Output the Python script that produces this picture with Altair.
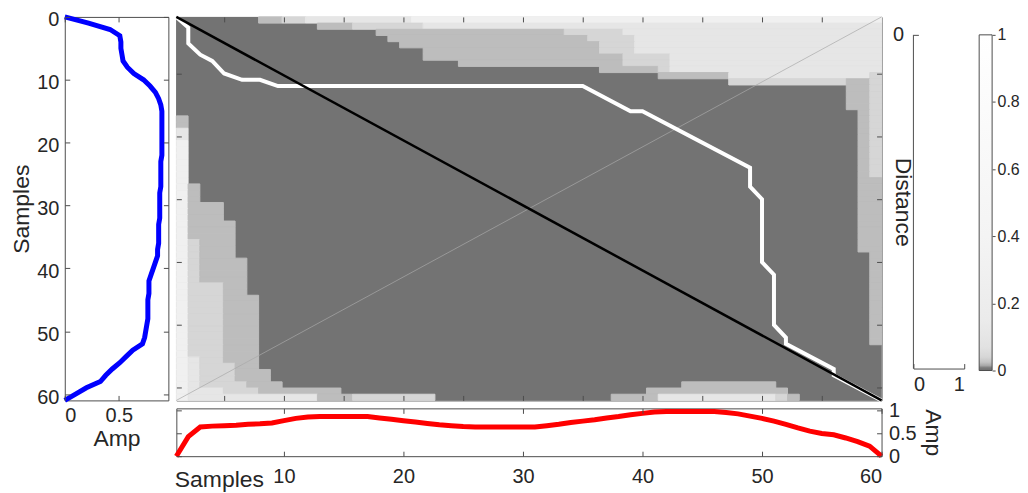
import altair as alt
import pandas as pd

FONT = "Liberation Sans"
TEXT = "#262626"
LINE = "#4d4d4d"

# ---------------- data ----------------
blue_sample = list(range(62))
blue_amp = [0.00, 0.22, 0.42, 0.51, 0.52, 0.52, 0.53, 0.54, 0.58, 0.64,
            0.73, 0.79, 0.84, 0.87, 0.89, 0.90, 0.90, 0.90, 0.90, 0.90,
            0.90, 0.90, 0.90, 0.89, 0.89, 0.89, 0.89, 0.89, 0.88, 0.88,
            0.88, 0.88, 0.88, 0.87, 0.87, 0.87, 0.87, 0.86, 0.86, 0.84,
            0.82, 0.80, 0.78, 0.78, 0.78, 0.77, 0.77, 0.77, 0.77, 0.76,
            0.75, 0.74, 0.72, 0.63, 0.57, 0.51, 0.44, 0.38, 0.33, 0.20,
            0.10, 0.00]

red_sample = list(range(1, 61))
red_amp = [0.00, 0.43, 0.64, 0.66, 0.67, 0.68, 0.70, 0.71, 0.73, 0.78,
           0.83, 0.86, 0.87, 0.87, 0.87, 0.87, 0.87, 0.84, 0.81, 0.78,
           0.75, 0.72, 0.69, 0.67, 0.65, 0.64, 0.64, 0.64, 0.64, 0.64,
           0.64, 0.67, 0.70, 0.74, 0.77, 0.80, 0.84, 0.87, 0.91, 0.94,
           0.97, 0.98, 0.98, 0.98, 0.98, 0.98, 0.96, 0.93, 0.88, 0.83,
           0.77, 0.70, 0.62, 0.55, 0.50, 0.47, 0.40, 0.32, 0.22, 0.00]

# distance-matrix bands: depth (in rows) from the top per column, level >= k
top_lvl1 = [0, 0, 0, 0, 0, 0, 0, 1, 1, 1, 1, 1, 2, 2, 2, 2, 2, 3, 4, 5,
            5, 7, 7, 7, 8, 8, 8, 8, 8, 8, 8, 8, 8, 8, 8, 8, 9, 9, 9, 9,
            9, 10, 10, 10, 10, 10, 10, 11, 11, 11, 11, 11, 11, 11, 11, 11, 11, 15, 38, 53]
top_lvl2 = [0, 0, 0, 0, 0, 0, 0, 0, 0, 1, 1, 1, 1, 1, 1, 2, 2, 2, 2, 2,
            2, 2, 2, 2, 2, 2, 2, 2, 2, 2, 2, 2, 2, 3, 3, 4, 6, 6, 8, 8,
            8, 9, 9, 9, 9, 9, 9, 11, 11, 11, 11, 11, 11, 11, 11, 11, 11, 10, 10, 26]
top_lvl3 = [0, 0, 0, 0, 0, 0, 0, 0, 0, 0, 0, 1, 1, 1, 1, 1, 1, 1, 1, 1,
            1, 2, 2, 2, 2, 2, 2, 2, 2, 2, 2, 2, 2, 2, 2, 2, 2, 2, 3, 6,
            6, 6, 9, 9, 9, 9, 9, 10, 10, 10, 10, 10, 10, 10, 10, 10, 10, 10, 10, 9]
top_lvl4 = [0, 0, 0, 0, 0, 0, 0, 0, 0, 0, 0, 0, 0, 0, 0, 0, 0, 0, 0, 0,
            1, 1, 1, 1, 1, 1, 1, 1, 1, 1, 1, 1, 1, 1, 1, 1, 1, 1, 1, 1,
            1, 1, 1, 1, 1, 1, 1, 1, 1, 1, 1, 1, 1, 1, 1, 1, 1, 1, 1, 1]

# width (in columns) from the left per row, level >= k
left_lvl1 = [0, 0, 0, 0, 0, 0, 0, 0, 0, 0, 0, 0, 0, 0, 0, 0, 1, 1, 1, 1,
             1, 1, 1, 1, 1, 1, 1, 2, 2, 2, 4, 4, 4, 5, 5, 5, 5, 5, 5, 6,
             6, 6, 6, 6, 6, 7, 7, 7, 7, 7, 7, 7, 7, 7, 7, 7, 7, 8, 8, 9,
             10, 12]
left_lvl2 = [0, 0, 0, 0, 0, 0, 0, 0, 0, 0, 0, 0, 0, 0, 0, 0, 0, 0, 1, 1,
             1, 1, 1, 1, 1, 1, 1, 1, 1, 1, 1, 1, 1, 1, 1, 1, 2, 2, 2, 2,
             2, 2, 2, 4, 4, 4, 4, 4, 4, 4, 4, 4, 4, 4, 4, 4, 5, 5, 5, 6,
             7, 12]
left_lvl3 = [0, 0, 0, 0, 0, 0, 0, 0, 0, 0, 0, 0, 0, 0, 0, 0, 0, 0, 1, 1,
             1, 1, 1, 1, 1, 1, 1, 1, 1, 1, 1, 1, 1, 1, 1, 1, 1, 1, 1, 1,
             1, 1, 1, 1, 1, 1, 1, 1, 1, 1, 1, 1, 1, 1, 1, 2, 2, 2, 2, 2,
             4, 12]
left_lvl4 = [0, 0, 0, 0, 0, 0, 0, 0, 0, 0, 0, 0, 0, 0, 0, 0, 0, 0, 0, 0,
             1, 1, 1, 1, 1, 1, 1, 1, 1, 1, 1, 1, 1, 1, 1, 1, 1, 1, 1, 1,
             1, 1, 1, 1, 1, 1, 1, 1, 1, 1, 1, 1, 1, 1, 1, 1, 1, 1, 1, 1,
             1, 1]

# depth (in rows) from the bottom per column, level >= k
bot_lvl1 = [0, 0, 0, 0, 0, 0, 0, 0, 0, 0, 2, 2, 2, 2, 1, 1, 1, 1, 1, 1,
            1, 1, 0, 0, 0, 0, 0, 0, 0, 0, 0, 0, 0, 0, 0, 0, 0, 1, 1, 1,
            2, 2, 2, 3, 3, 3, 3, 3, 3, 3, 3, 2, 1, 0, 0, 0, 0, 0, 0, 0]
bot_lvl2 = [0, 0, 0, 0, 0, 0, 0, 0, 0, 0, 1, 1, 0, 0, 0, 1, 1, 1, 1, 1,
            1, 1, 0, 0, 0, 0, 0, 0, 0, 0, 0, 0, 0, 0, 0, 0, 0, 0, 0, 0,
            0, 1, 1, 1, 1, 1, 1, 1, 1, 1, 1, 1, 0, 0, 0, 0, 0, 0, 0, 0]
bot_lvl3 = [0, 0, 0, 0, 0, 0, 0, 0, 0, 0, 0, 0, 0, 0, 0, 0, 0, 0, 0, 0,
            0, 0, 0, 0, 0, 0, 0, 0, 0, 0, 0, 0, 0, 0, 0, 0, 0, 0, 0, 0,
            0, 1, 1, 1, 1, 1, 1, 1, 1, 1, 1, 0, 0, 0, 0, 0, 0, 0, 0, 0]
bot_lvl4 = [0] * 60

level_colors = ["#737373", "#bdbdbd", "#d6d6d6", "#e6e6e6", "#f0f0f0"]

# warping path and reference diagonals (axis units)
path_x = [1, 2, 2, 3, 4, 5, 6.5, 8, 9.5, 35, 39, 40, 49, 49, 50, 50, 51, 51, 52, 52, 56, 56, 60]
path_y = [1, 2.7, 5.2, 7, 8, 10, 11, 11, 12, 12, 16, 16, 25, 28, 30, 40, 42, 50, 52, 53, 57, 58, 62]
diag_x = [1, 60]
diag_y = [1, 62]
anti_x = [1, 60]
anti_y = [62, 1]

cbar_offsets = [0, 0.008, 0.015, 0.025, 0.04, 0.07, 0.15, 0.4, 1]
cbar_colors = ["#6e6e6e", "#7a7a7a", "#a8a8a8", "#c4c4c4", "#d6d6d6",
               "#e2e2e2", "#ebebeb", "#f4f4f4", "#ffffff"]
cbar_ticks = [0, 0.2, 0.4, 0.6, 0.8, 1]

N_COLS, N_ROWS = 60, 62
H = 385          # height of the top row of panels
DIST_TOP, DIST_BOT = 18, 353    # distance axes inside that row
CBAR_TOP, CBAR_BOT = 18, 355    # colour bar inside that row

# ---------------- build heatmap table ----------------
tops = [top_lvl1, top_lvl2, top_lvl3, top_lvl4]
lefts = [left_lvl1, left_lvl2, left_lvl3, left_lvl4]
bots = [bot_lvl1, bot_lvl2, bot_lvl3, bot_lvl4]
recs = []
for r in range(N_ROWS):
    levels = []
    for c in range(N_COLS):
        lv = 0
        for k in range(4):
            if r < tops[k][c] or c < lefts[k][r] or r >= N_ROWS - bots[k][c]:
                lv = k + 1
        levels.append(lv)
    c = 0
    while c < N_COLS:
        e = c
        while e + 1 < N_COLS and levels[e + 1] == levels[c]:
            e += 1
        if levels[c] > 0:
            recs.append({
                "x": 1 + c * 59 / N_COLS, "x2": 1 + (e + 1) * 59 / N_COLS,
                "y": 1 + r * 61 / N_ROWS, "y2": 1 + (r + 1) * 61 / N_ROWS,
                "lvl": levels[c]})
        c = e + 1
heat_df = pd.DataFrame(recs)
bg_df = pd.DataFrame({"x": [1], "x2": [60], "y": [1], "y2": [62], "lvl": [0]})

path_df = pd.DataFrame({"x": path_x, "y": path_y, "i": range(len(path_x))})
diag_df = pd.DataFrame({"x": diag_x, "y": diag_y, "i": range(2)})
anti_df = pd.DataFrame({"x": anti_x, "y": anti_y, "i": range(2)})
blue_df = pd.DataFrame({"sample": blue_sample, "amp": blue_amp})
red_df = pd.DataFrame({"sample": red_sample, "amp": red_amp})
dummy_df = pd.DataFrame({"x": [0.5], "y": [0.5]})
vline_df = pd.DataFrame({"x": [0], "y": [0], "y2": [1]})
cbar_df = pd.DataFrame({"x0": [0], "x1": [1], "lo": [0], "hi": [1]})

NUM = "~f"

# ---------------- left amplitude panel ----------------
left = alt.Chart(blue_df).mark_line(color="#0000ff", strokeWidth=5).encode(
    x=alt.X("amp:Q", scale=alt.Scale(domain=[0, 0.96], nice=False, zero=False),
            axis=alt.Axis(values=[0, 0.5], title="Amp", format=NUM, ticks=False,
                          domain=False, grid=True, gridDash=[5, H - 10, 5], zindex=1,
                          labelPadding=5, titlePadding=2)),
    y=alt.Y("sample:Q", scale=alt.Scale(domain=[0, 61], nice=False, reverse=True),
            axis=alt.Axis(values=[0, 10, 20, 30, 40, 50, 60], title="Samples", format=NUM,
                          ticks=False, domain=False, grid=True, gridDash=[5, 94, 5],
                          zindex=1, labelPadding=6, titlePadding=3, labelOffset=3)),
    order="sample:Q",
).properties(width=104, height=H)

# ---------------- distance matrix ----------------
X_H = alt.X("x:Q", scale=alt.Scale(domain=[1, 60], nice=False, zero=False),
            axis=alt.Axis(values=list(range(5, 60, 5)), labels=False, ticks=False,
                          domain=False, title="", grid=True, gridDash=[5, H - 10, 5], zindex=1))
Y_H = alt.Y("y:Q", scale=alt.Scale(domain=[1, 62], nice=False, zero=False, reverse=True),
            axis=alt.Axis(values=[10, 20, 30, 40, 50, 60], labels=False, ticks=False,
                          domain=False, title="", grid=True, gridDash=[5, 698, 5], zindex=1))
lvl_scale = alt.Scale(domain=[0, 1, 2, 3, 4], range=level_colors)

heat_bg = alt.Chart(bg_df).mark_rect().encode(
    x=X_H, x2="x2:Q", y=Y_H, y2="y2:Q",
    color=alt.Color("lvl:O", scale=lvl_scale, legend=None))
heat_rect = alt.Chart(heat_df).mark_rect(strokeWidth=1).encode(
    x=X_H, x2="x2:Q", y=Y_H, y2="y2:Q",
    color=alt.Color("lvl:O", scale=lvl_scale, legend=None),
    stroke=alt.Stroke("lvl:O", scale=lvl_scale, legend=None),
)
anti = alt.Chart(anti_df).mark_line(color="#a8a8a8", strokeWidth=0.7).encode(
    x=X_H, y=Y_H, order="i:Q")
path = alt.Chart(path_df).mark_line(color="#ffffff", strokeWidth=4).encode(
    x=X_H, y=Y_H, order="i:Q")
diag = alt.Chart(diag_df).mark_line(color="#000000", strokeWidth=2.5).encode(
    x=X_H, y=Y_H, order="i:Q")
heat = alt.layer(heat_bg, heat_rect, anti, path, diag).properties(width=708, height=H)

# ---------------- bottom amplitude panel ----------------
bottom = alt.Chart(red_df).mark_line(color="#ff0000", strokeWidth=5).encode(
    x=alt.X("sample:Q", scale=alt.Scale(domain=[1, 60], nice=False, zero=False),
            axis=alt.Axis(values=[10, 20, 30, 40, 50, 60], title="Samples", format=NUM,
                          titleAnchor="start", titleAlign="left", titleX=-2, titleY=12,
                          titleBaseline="top", ticks=False, domain=False, grid=True,
                          gridDash=[5, 38, 5], zindex=1, labelPadding=10)),
    y=alt.Y("amp:Q", scale=alt.Scale(domain=[0, 1.05], nice=False),
            axis=alt.Axis(orient="right", values=[0, 0.5, 1], title="Amp", titleAngle=90,
                          format=NUM, ticks=False, domain=False, grid=True,
                          gridDash=[5, 698, 5], zindex=1, labelPadding=7, titlePadding=4)),
    order="sample:Q",
).properties(width=708, height=48)

# ---------------- empty distance axes ----------------
d_span = DIST_BOT - DIST_TOP
d_lo = -DIST_TOP / d_span
d_hi = 1 + (H - DIST_BOT) / d_span
dist_pts = alt.Chart(dummy_df).mark_point(opacity=0).encode(
    x=alt.X("x:Q", scale=alt.Scale(domain=[0, 1], nice=False),
            axis=alt.Axis(values=[0, 0.5, 1], format=NUM, offset=-(H - DIST_BOT),
                          labelExpr="datum.value == 0.5 ? '' : datum.label",
                          title="", ticks=False, domain=True, domainColor=LINE,
                          grid=True, gridDash=[0, H - DIST_BOT, 5, 2000], zindex=1,
                          labelPadding=6)),
    y=alt.Y("y:Q", scale=alt.Scale(domain=[d_lo, d_hi], nice=False, zero=False, reverse=True),
            axis=alt.Axis(values=[0], format=NUM, title="Distance", titleAngle=90,
                          titleX=-11, titleY=DIST_TOP + d_span / 2, titleAlign="center",
                          titleBaseline="middle", ticks=False, domain=False, grid=True,
                          gridDash=[5, 2000], zindex=1, labelPadding=10)),
)
dist_line = alt.Chart(vline_df).mark_rule(color=LINE, strokeWidth=1).encode(
    x="x:Q", y="y:Q", y2="y2:Q")
dist = alt.layer(dist_pts, dist_line).properties(
    width=51, height=H, view=alt.ViewBackground(stroke="transparent"))

# ---------------- colour bar ----------------
c_span = CBAR_BOT - CBAR_TOP
c_lo = -(H - CBAR_BOT) / c_span
c_hi = 1 + CBAR_TOP / c_span
grad = alt.LinearGradient(
    gradient="linear",
    stops=[alt.GradientStop(offset=o, color=c) for o, c in zip(cbar_offsets, cbar_colors)],
    x1=0, x2=0, y1=1, y2=0)
cbar = alt.Chart(cbar_df).mark_rect(color=grad, stroke=LINE, strokeWidth=1).encode(
    x=alt.X("x0:Q", scale=alt.Scale(domain=[0, 1], nice=False), axis=None),
    x2="x1:Q",
    y=alt.Y("lo:Q", scale=alt.Scale(domain=[c_lo, c_hi], nice=False, zero=False),
            axis=alt.Axis(orient="right", values=cbar_ticks, title="", format=NUM,
                          tickSize=3, tickColor=LINE, domain=False, grid=False,
                          labelPadding=2, labelFontSize=16)),
    y2="hi:Q",
).properties(width=13, height=H, view=alt.ViewBackground(stroke="transparent"))


def blank(w, h):
    return alt.Chart(dummy_df).mark_point(opacity=0).encode(
        x=alt.X("x:Q", axis=None), y=alt.Y("y:Q", axis=None)
    ).properties(width=w, height=h, view=alt.ViewBackground(stroke="transparent"))


chart = alt.concat(
    left, blank(8, 1), heat, blank(32, 1), dist, blank(15, 1), cbar,
    blank(1, 1), blank(1, 1), bottom, blank(1, 1), blank(1, 1), blank(1, 1), blank(1, 1),
    columns=7, spacing={"row": 8, "column": 0}, bounds="flush",
).properties(
    padding={"left": 2, "top": -3, "right": 0, "bottom": 0}
).configure_view(
    stroke=LINE, strokeWidth=1
).configure_axis(
    labelFont=FONT, titleFont=FONT, labelFontSize=20, titleFontSize=23,
    labelColor=TEXT, titleColor=TEXT, titleFontWeight="normal",
    gridColor=LINE, gridOpacity=1, gridWidth=1, domainColor=LINE, tickColor=LINE,
)

chart.save("out.html", embed_options={"renderer": "svg", "actions": False})
